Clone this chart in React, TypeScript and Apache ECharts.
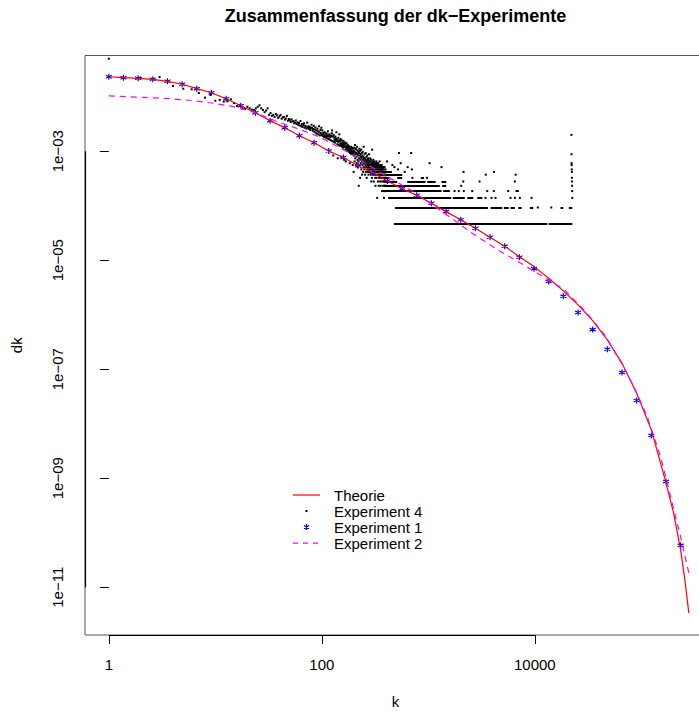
import React, { useEffect, useRef } from "react";
import * as echarts from "echarts";

const TITLE = "Zusammenfassung der dk−Experimente";
const X_NAME = "k";
const Y_NAME = "dk";
const X_TICKS = [1, 100, 10000];
const X_TICK_LABELS = ["1", "100", "10000"];
const Y_TICKS = [1e-3, 1e-5, 1e-7, 1e-9, 1e-11];
const Y_TICK_LABELS = ["1e−03", "1e−05", "1e−07", "1e−09", "1e−11"];
const LEGEND_NAMES = ["Theorie", "Experiment 4", "Experiment 1", "Experiment 2"];

// Theorie (red line)
const theorieK = [1, 1.373, 1.885, 2.588, 3.553, 4.879, 6.698, 9.197, 12.63, 17.34, 23.8, 32.68, 44.87, 61.61, 84.59, 116.1, 159.5, 218.9, 300.6, 412.7, 566.6, 778, 1068, 1467, 2014, 2765, 3796, 5212, 7157, 9826, 13490, 18520, 25430, 34920, 47940, 65820, 90380, 124100, 170400, 200500, 233900, 256000, 279300];
const theorieDk = [2.32e-2, 2.23e-2, 2.17e-2, 2.08e-2, 1.91e-2, 1.69e-2, 1.4e-2, 1.18e-2, 9.14e-3, 6.81e-3, 5.06e-3, 3.62e-3, 2.7e-3, 1.92e-3, 1.43e-3, 1.01e-3, 7.66e-4, 5.4e-4, 4.06e-4, 2.84e-4, 2.05e-4, 1.55e-4, 1.11e-4, 7.78e-5, 5.52e-5, 3.85e-5, 2.64e-5, 1.8e-5, 1.16e-5, 7.62e-6, 4.67e-6, 2.73e-6, 1.51e-6, 7.8e-7, 3.45e-7, 1.29e-7, 3.63e-8, 7.71e-9, 8.22e-10, 2.32e-10, 4.86e-11, 1.37e-11, 3.36e-12];

// Experiment 1 (blue stars, log-binned)
const exp1K = [1, 1.373, 1.885, 2.588, 3.553, 4.879, 6.698, 9.197, 12.63, 17.34, 23.8, 32.68, 44.87, 61.61, 84.59, 116.1, 159.5, 218.9, 300.6, 412.7, 566.6, 778, 1068, 1467, 2014, 2765, 3796, 5212, 7157, 9826, 13490, 18520, 25430, 34920, 47940, 65820, 90380, 124100, 170400, 233900];
const exp1Dk = [2.32e-2, 2.23e-2, 2.17e-2, 2.08e-2, 1.91e-2, 1.69e-2, 1.4e-2, 1.18e-2, 9.14e-3, 6.81e-3, 5.06e-3, 3.62e-3, 2.7e-3, 1.92e-3, 1.43e-3, 1.01e-3, 7.66e-4, 5.4e-4, 4.06e-4, 2.84e-4, 2.05e-4, 1.55e-4, 1.11e-4, 7.78e-5, 5.52e-5, 3.85e-5, 2.64e-5, 1.8e-5, 1.13e-5, 7.0e-6, 4.05e-6, 2.18e-6, 1.1e-6, 5.33e-7, 2.33e-7, 8.67e-8, 2.66e-8, 6.07e-9, 8.69e-10, 5.87e-11];

// Experiment 2 (magenta dashed)
const exp2K = [1, 2.13, 3.8, 6.28, 9.68, 14.9, 23, 38.1, 54.6, 93.7, 173, 356, 681, 1452, 2494, 4592, 8180, 12600, 18720, 29900, 46100, 63800, 85100, 113600, 151400, 188000, 233300, 279300];
const exp2Dk = [1.03e-2, 9.72e-3, 9.18e-3, 8.43e-3, 7.55e-3, 6.55e-3, 5.16e-3, 3.48e-3, 2.74e-3, 1.85e-3, 9.79e-4, 4.04e-4, 1.94e-4, 7.05e-5, 3.26e-5, 1.5e-5, 7.85e-6, 4.67e-6, 2.93e-6, 1.14e-6, 4.08e-7, 1.38e-7, 4.8e-8, 1.35e-8, 2.5e-9, 4.61e-10, 8.51e-11, 1.82e-11];

// Experiment 4 (black dots): node counts per degree, dk = count / total
const exp4Total = 21600;
// counts for k = 1 .. 400
const exp4CloudCounts = [
  1073, 475, 495, 339, 302, 295, 252, 207, 232, 182,
  188, 175, 178, 193, 165, 145, 152, 132, 128, 141,
  132, 125, 123, 132, 141, 150, 132, 123, 112, 120,
  132, 100, 108, 96, 100, 92, 104, 98, 88, 94,
  100, 85, 90, 92, 82, 86, 96, 78, 84, 80,
  74, 83, 76, 77, 70, 72, 79, 68, 73, 66,
  71, 64, 77, 62, 68, 60, 65, 70, 58, 63,
  61, 56, 72, 59, 62, 55, 60, 53, 57, 66,
  58, 51, 55, 63, 49, 54, 59, 47, 52, 45,
  56, 50, 44, 62, 48, 42, 53, 46, 58, 43,
  52, 41, 47, 44, 39, 48, 42, 40, 46, 38,
  45, 41, 37, 50, 43, 36, 40, 44, 35, 42,
  39, 34, 41, 46, 52, 33, 40, 18, 43, 32,
  38, 35, 31, 40, 34, 37, 48, 36, 33, 29,
  16, 32, 38, 28, 34, 44, 27, 33, 30, 36,
  29, 17, 27, 34, 30, 26, 31, 28, 25, 33,
  27, 30, 15, 29, 26, 31, 23, 14, 25, 27,
  30, 24, 26, 22, 28, 25, 23, 27, 21, 26,
  24, 22, 13, 20, 25, 23, 21, 26, 19, 24,
  22, 20, 25, 21, 12, 19, 24, 20, 9, 22,
  18, 25, 14, 21, 28, 16, 19, 24, 12, 20,
  17, 23, 13, 26, 19, 15, 22, 11, 18, 21,
  14, 5, 20, 16, 24, 12, 18, 22, 7, 15,
  19, 13, 17, 23, 10, 16, 20, 14, 8, 18,
  12, 21, 15, 9, 17, 13, 26, 11, 16, 14,
  10, 19, 13, 16, 8, 15, 12, 20, 9, 14,
  11, 17, 13, 7, 15, 10, 18, 12, 14, 9,
  16, 11, 13, 8, 15, 10, 12, 19, 9, 14,
  12, 14, 9, 11, 16, 10, 13, 8, 12, 15,
  6, 13, 10, 12, 7, 11, 23, 14, 9, 12,
  10, 13, 8, 11, 15, 9, 6, 12, 10, 14,
  9, 11, 13, 8, 10, 12, 7, 11, 5, 13,
  10, 8, 12, 9, 14, 11, 7, 10, 13, 9,
  3, 11, 8, 12, 10, 6, 9, 13, 11, 8,
  10, 5, 12, 9, 7, 11, 10, 8, 14, 6,
  9, 11, 8, 10, 5, 12, 9, 7, 10, 11,
  8, 6, 10, 9, 12, 7, 4, 10, 8, 11,
  9, 5, 8, 10, 7, 11, 6, 9, 4, 8,
  10, 6, 3, 9, 7, 5, 8, 11, 6, 4,
  7, 9, 5, 8, 6, 10, 4, 7, 5, 9,
];
// dense runs of degrees (k > 400) sharing the same count
const exp4RunCount = [9, 8, 7, 7, 7, 6, 6, 6, 6, 5, 5, 4, 4, 4, 3, 3, 3, 3, 2, 2, 2, 2, 2, 2, 2, 2, 1, 1];
const exp4RunStart = [401, 401, 401, 510, 850, 401, 634, 976, 1330, 401, 1350, 401, 1380, 6587, 419, 1699, 2319, 2879, 485, 3838, 5115, 5912, 6983, 8975, 17430, 20860, 475, 13450];
const exp4RunEnd = [455, 570, 432, 568, 912, 510, 942, 1169, 1472, 1282, 1472, 1330, 1592, 7075, 1641, 2202, 2641, 3209, 3622, 4940, 5700, 6490, 7502, 9660, 18480, 22500, 13070, 22500];
// isolated degrees (k > 400)
const exp4DotK = [708, 970, 2127, 3027, 6490, 2036, 1763, 1933, 2153, 2584, 3573, 4121, 5625, 3446, 3921, 4274, 5912, 6500, 7234, 9312, 10670, 14260, 410, 460, 480, 520, 530, 550, 600, 640, 690, 700, 1027, 1330, 2140, 3460, 4130, 6600, 22050, 22090, 22130, 22170, 22210, 22250, 22290, 22330, 22370, 22410, 22450];
const exp4DotCount = [7, 7, 6, 6, 6, 5, 4, 4, 4, 4, 4, 4, 4, 3, 3, 3, 3, 3, 3, 3, 2, 2, 14, 12, 11, 10, 20, 13, 9, 11, 20, 10, 13, 11, 9, 8, 9, 8, 43, 19, 13, 12, 10, 9, 7, 6, 5, 4, 3];

const FONT = "'Liberation Sans', Arial, Helvetica, sans-serif";
const lg = Math.log10;

const X_MIN = -0.2235;
const X_MAX = 5.607;
const Y_MIN = -11.876;
const Y_MAX = -1.245;

const STAR = "path://M5 0L5 10M0.67 2.5L9.33 7.5M0.67 7.5L9.33 2.5";

export default function App() {
  const ref = useRef<HTMLDivElement>(null);
  useEffect(() => {
    if (!ref.current) return;
    const chart = echarts.init(ref.current, null, { renderer: "svg" });

    const fmt = (ticks: number[], labels: string[]) => (v: number) => {
      const i = ticks.findIndex((t) => Math.abs(lg(t) - v) < 1e-6);
      return i >= 0 ? labels[i] : "";
    };

    const exp4Points: number[][] = exp4CloudCounts.map((c, i) => [lg(i + 1), lg(c / exp4Total)]);
    exp4DotK.forEach((k, i) => exp4Points.push([lg(k), lg(exp4DotCount[i] / exp4Total)]));
    const exp4Runs = exp4RunCount.map((c, i) => ({
      coords: [
        [lg(exp4RunStart[i]), lg(c / exp4Total)],
        [lg(exp4RunEnd[i]), lg(c / exp4Total)],
      ],
    }));

    const xt = X_TICKS.map(lg);
    const yt = Y_TICKS.map(lg);

    const option: any = {
      animation: false,
      backgroundColor: "#ffffff",
      title: {
        text: TITLE,
        left: 395.5,
        top: 7,
        padding: 0,
        textAlign: "center",
        textStyle: { fontFamily: FONT, fontSize: 18, fontWeight: "bold", color: "#000" },
      },
      grid: {
        left: 85,
        top: 55.5,
        width: 621,
        height: 579.5,
        show: true,
        borderColor: "#555",
        borderWidth: 1,
        backgroundColor: "transparent",
        containLabel: false,
        outerBoundsMode: "none",
      },
      legend: {
        orient: "vertical",
        left: 293,
        top: 487.5,
        padding: 0,
        itemWidth: 27,
        itemHeight: 14,
        itemGap: 1,
        selectedMode: false,
        textStyle: { fontFamily: FONT, fontSize: 15, color: "#000", padding: [0, 0, 0, 9] },
        data: [
          { name: LEGEND_NAMES[0], icon: "path://M0 6.4L27 6.4L27 7.6L0 7.6Z" },
          { name: LEGEND_NAMES[1], icon: "path://M0 0M14 14M6 6L8 6L8 8L6 8Z" },
          {
            name: LEGEND_NAMES[2],
            icon: "path://M0 0M14 14M7 4L7 10M4.4 5.5L9.6 8.5M4.4 8.5L9.6 5.5",
            itemStyle: { borderWidth: 1.2, borderColor: "#0000ff", color: "rgba(0,0,0,0)" },
          },
          {
            name: LEGEND_NAMES[3],
            icon: "path://M0 6.4L5 6.4L5 7.6L0 7.6ZM10 6.4L15 6.4L15 7.6L10 7.6ZM20 6.4L25 6.4L25 7.6L20 7.6ZM27 6.4L27 7.6",
          },
        ],
      },
      xAxis: {
        type: "value",
        min: X_MIN,
        max: X_MAX,
        position: "bottom",
        axisLine: { show: false },
        splitLine: { show: false },
        axisTick: { show: true, length: 9, customValues: xt, lineStyle: { color: "#000", width: 1 } },
        axisLabel: { customValues: xt, formatter: fmt(X_TICKS, X_TICK_LABELS), margin: 22, color: "#000", fontSize: 15, fontFamily: FONT },
        name: X_NAME,
        nameLocation: "middle",
        nameGap: 59,
        nameTextStyle: { fontFamily: FONT, fontSize: 15, color: "#000" },
      },
      yAxis: {
        type: "value",
        min: Y_MIN,
        max: Y_MAX,
        position: "left",
        axisLine: { show: false },
        splitLine: { show: false },
        axisTick: { show: true, length: 9, customValues: yt, lineStyle: { color: "#000", width: 1 } },
        axisLabel: { customValues: yt, formatter: fmt(Y_TICKS, Y_TICK_LABELS), rotate: 90, margin: 20, color: "#000", fontSize: 15, fontFamily: FONT },
        name: Y_NAME,
        nameLocation: "middle",
        nameRotate: 90,
        nameGap: 61,
        nameTextStyle: { fontFamily: FONT, fontSize: 15, color: "#000" },
      },
      series: [
        {
          name: "axis-lines",
          type: "lines",
          coordinateSystem: "cartesian2d",
          silent: true,
          clip: false,
          lineStyle: { color: "#000", width: 1.2, opacity: 1, curveness: 0 },
          data: [
            { coords: [[xt[0], Y_MIN], [xt[xt.length - 1], Y_MIN]] },
            { coords: [[X_MIN, yt[0]], [X_MIN, yt[yt.length - 1]]] },
          ],
        },
        {
          name: LEGEND_NAMES[0],
          type: "line",
          symbol: "none",
          silent: true,
          lineStyle: { color: "#ff0000", width: 1.2 },
          itemStyle: { color: "#ff0000" },
          data: theorieK.map((k, i) => [lg(k), lg(theorieDk[i])]),
        },
        {
          name: LEGEND_NAMES[1],
          type: "scatter",
          symbol: "rect",
          symbolSize: 2,
          silent: true,
          itemStyle: { color: "#000", opacity: 1 },
          data: exp4Points,
        },
        {
          name: "exp4-runs",
          type: "lines",
          coordinateSystem: "cartesian2d",
          silent: true,
          lineStyle: { color: "#000", width: 2, opacity: 1, curveness: 0, cap: "butt" },
          data: exp4Runs,
        },
        {
          name: LEGEND_NAMES[2],
          type: "scatter",
          symbol: STAR,
          symbolSize: 6,
          silent: true,
          itemStyle: { color: "rgba(0,0,0,0)", borderColor: "#0000ff", borderWidth: 1.2, opacity: 1 },
          data: exp1K.map((k, i) => [lg(k), lg(exp1Dk[i])]),
        },
        {
          name: LEGEND_NAMES[3],
          type: "line",
          symbol: "none",
          silent: true,
          lineStyle: { color: "#ff00ff", width: 1.2, type: [6, 5] },
          itemStyle: { color: "#ff00ff" },
          data: exp2K.map((k, i) => [lg(k), lg(exp2Dk[i])]),
        },
      ],
    };

    chart.setOption(option);
    return () => chart.dispose();
  }, []);

  return <div ref={ref} style={{ position: "fixed", left: 0, top: 0, width: 699, height: 711 }} />;
}
